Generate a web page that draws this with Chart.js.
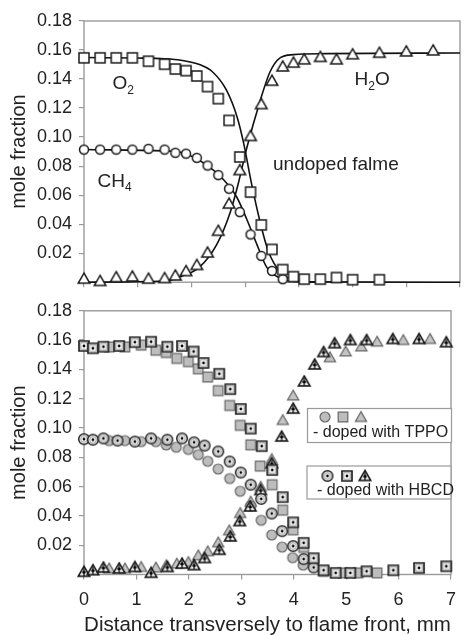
<!DOCTYPE html>
<html>
<head>
<meta charset="utf-8">
<script src="https://cdn.jsdelivr.net/npm/chart.js@4.4.1/dist/chart.umd.min.js"></script>
<style>
html, body { margin: 0; padding: 0; background: #fff; overflow: hidden; }
#wrap { position: relative; width: 466px; height: 635px; overflow: hidden; }
canvas { position: absolute; left: 0; }
#top { top: 0; }
#bottom { top: 293px; }
</style>
</head>
<body>
<div id="wrap">
<canvas id="top" width="466" height="300"></canvas>
<canvas id="bottom" width="466" height="344"></canvas>
</div>
<script>
// upper panel: undoped flame, measured points
const xUndoped = [0, 0.3, 0.6, 0.9, 1.2, 1.5, 1.7, 1.9, 2.1, 2.3, 2.5, 2.7, 2.9, 3.1, 3.3, 3.5, 3.7, 3.9, 4.1, 4.4, 4.7, 5.0, 5.5, 6.0, 6.5];
const o2Undoped = [0.1546, 0.1546, 0.1546, 0.1546, 0.1523, 0.1502, 0.1469, 0.1458, 0.1421, 0.1348, 0.1265, 0.1115, 0.0863, 0.0621, 0.0395, 0.0226, 0.0087, 0.0038, 0.0021, 0.0021, 0.0032, 0.0017, 0.0017];
const ch4Undoped = [0.0914, 0.0914, 0.0914, 0.0914, 0.0919, 0.0914, 0.0892, 0.0886, 0.0857, 0.0804, 0.0738, 0.0644, 0.0483, 0.0329, 0.0181, 0.0078, 0.0021];
const h2oUndoped = [0.0028, 0.0012, 0.0038, 0.0043, 0.0028, 0.0032, 0.0050, 0.0080, 0.0122, 0.0208, 0.0358, 0.0545, 0.0776, 0.1011, 0.1231, 0.1392, 0.1490, 0.1517, 0.1539, 0.1556, 0.1539, 0.1574, 0.1585, 0.1594, 0.1601];

// upper panel: model curves
const o2FitX = [0, 1.0, 1.5, 1.8, 2.15, 2.4, 2.65, 2.85, 2.97, 3.12, 3.28, 3.43, 3.65, 3.9, 4.3, 7];
const o2FitY = [0.1548, 0.1545, 0.1540, 0.1530, 0.1500, 0.1447, 0.1325, 0.1139, 0.0962, 0.0677, 0.0413, 0.0215, 0.0071, 0.0017, 0.0002, 0];
const h2oFitX = [0, 1.5, 1.8, 2.15, 2.47, 2.72, 2.87, 3.03, 3.28, 3.46, 3.65, 3.9, 4.5, 7];
const h2oFitY = [0, 0.0008, 0.0038, 0.0104, 0.0259, 0.0479, 0.0677, 0.0925, 0.1251, 0.1447, 0.1546, 0.1568, 0.1575, 0.1579];
const ch4FitX = [0, 1.5, 1.8, 2.28, 2.59, 2.84, 3.03, 3.22, 3.40, 3.65, 3.9, 4.5];
const ch4FitY = [0.0914, 0.0905, 0.0896, 0.0809, 0.0710, 0.0589, 0.0434, 0.0259, 0.0104, 0.0028, 0.0005, 0];

// lower panel: doped with TPPO
const tppoO2X = [0.48, 0.78, 1.09, 1.37, 1.57, 1.77, 1.99, 2.18, 2.36, 2.56, 2.78, 2.98, 3.18, 3.36, 3.59, 3.79, 3.99, 4.19, 4.38, 4.57, 4.94, 5.23, 5.59];
const tppoO2Y = [0.1553, 0.1553, 0.1566, 0.1531, 0.1515, 0.1475, 0.1453, 0.1404, 0.1348, 0.1255, 0.1154, 0.1018, 0.0885, 0.0740, 0.0613, 0.0439, 0.0305, 0.0185, 0.0078, 0.0022, 0.0011, 0.0011, 0.0011];
const tppoCh4X = [0.48, 0.78, 1.09, 1.37, 1.57, 1.76, 1.99, 2.18, 2.36, 2.56, 2.78, 2.98, 3.18, 3.38, 3.58, 3.78, 3.98, 4.18];
const tppoCh4Y = [0.0914, 0.0914, 0.0907, 0.0907, 0.0884, 0.0869, 0.0854, 0.0818, 0.0773, 0.0720, 0.0655, 0.0568, 0.0468, 0.0370, 0.0270, 0.0187, 0.0115, 0.0064];
const tppoH2oX = [0.48, 0.78, 1.09, 1.37, 1.57, 1.77, 1.99, 2.18, 2.36, 2.56, 2.77, 2.98, 3.18, 3.37, 3.58, 3.79, 3.99, 4.69, 4.99, 5.29, 5.59, 6.09, 6.60];
const tppoH2oY = [0.0045, 0.0045, 0.0055, 0.0051, 0.0067, 0.0078, 0.0089, 0.0134, 0.0162, 0.0223, 0.0305, 0.0423, 0.0501, 0.0602, 0.0791, 0.1058, 0.1225, 0.1486, 0.1526, 0.1560, 0.1593, 0.1604, 0.1611];

// lower panel: doped with HBCD
const hbcdO2X = [0, 0.17, 0.37, 0.67, 0.97, 1.28, 1.59, 1.87, 2.09, 2.28, 2.58, 2.79, 2.99, 3.18, 3.39, 3.59, 3.79, 3.99, 4.19, 4.38, 4.57, 4.80, 5.08, 5.39, 5.90, 6.39, 6.91];
const hbcdO2Y = [0.1560, 0.1544, 0.1555, 0.1560, 0.1586, 0.1589, 0.1555, 0.1560, 0.1522, 0.1444, 0.1370, 0.1265, 0.1130, 0.0996, 0.0876, 0.0713, 0.0528, 0.0356, 0.0216, 0.0111, 0.0029, 0.0011, 0.0011, 0.0022, 0.0029, 0.0045, 0.0056];
const hbcdCh4X = [0, 0.17, 0.37, 0.64, 0.97, 1.28, 1.59, 1.87, 2.10, 2.30, 2.56, 2.78, 2.99, 3.18, 3.38, 3.58, 3.78, 3.99, 4.19, 4.38];
const hbcdCh4Y = [0.0924, 0.0920, 0.0929, 0.0914, 0.0907, 0.0929, 0.0920, 0.0929, 0.0902, 0.0880, 0.0840, 0.0771, 0.0696, 0.0613, 0.0516, 0.0416, 0.0296, 0.0194, 0.0105, 0.0048];
const hbcdH2oX = [0, 0.17, 0.37, 0.67, 0.97, 1.28, 1.59, 1.87, 2.10, 2.30, 2.58, 2.79, 2.97, 3.17, 3.37, 3.58, 3.77, 3.99, 4.20, 4.40, 4.57, 4.78, 5.08, 5.39, 5.89, 6.39, 6.91];
const hbcdH2oY = [0.0022, 0.0033, 0.0051, 0.0045, 0.0055, 0.0015, 0.0055, 0.0078, 0.0067, 0.0116, 0.0172, 0.0263, 0.0368, 0.0468, 0.0580, 0.0763, 0.0945, 0.1136, 0.1321, 0.1437, 0.1522, 0.1582, 0.1604, 0.1604, 0.1611, 0.1611, 0.1589];

const yTicks = [0.02, 0.04, 0.06, 0.08, 0.10, 0.12, 0.14, 0.16, 0.18];

const FONT = '"Liberation Sans", Arial, sans-serif';
const pts = (xs, ys) => ys.map((y, i) => ({ x: xs[i], y }));

// marker glyphs drawn on small canvases
function marker(shape, o) {
    const s = 18, c = s / 2;
    const cv = document.createElement('canvas');
    cv.width = s; cv.height = s;
    const g = cv.getContext('2d');
    g.lineWidth = o.lw;
    g.strokeStyle = o.stroke;
    g.fillStyle = o.fill;
    g.beginPath();
    if (shape === 'circle') g.arc(c, c, o.r, 0, Math.PI * 2);
    else if (shape === 'square') g.rect(c - o.r, c - o.r, o.r * 2, o.r * 2);
    else {
        g.moveTo(c, c - o.r * 0.87);
        g.lineTo(c + o.r, c + o.r * 0.87);
        g.lineTo(c - o.r, c + o.r * 0.87);
        g.closePath();
    }
    g.fill();
    g.stroke();
    if (o.dot) {
        if (shape === 'circle') {
            g.beginPath(); g.strokeStyle = '#9a9a9a'; g.lineWidth = 1;
            g.arc(c, c, o.r - 2, 0, Math.PI * 2); g.stroke();
        } else if (shape === 'square') {
            g.strokeStyle = '#9a9a9a'; g.lineWidth = 1;
            g.strokeRect(c - o.r + 1.8, c - o.r + 1.8, (o.r - 1.8) * 2, (o.r - 1.8) * 2);
        } else {
            g.beginPath(); g.strokeStyle = '#111'; g.lineWidth = 1.2;
            g.moveTo(c, c - o.r * 0.5); g.lineTo(c, c + o.r * 0.87);
            g.moveTo(c - 2.2, c + 1); g.lineTo(c + 2.2, c + 1);
            g.stroke();
        }
        g.beginPath(); g.fillStyle = '#000';
        g.arc(c, shape === 'triangle' ? c + 1 : c, 1.4, 0, Math.PI * 2); g.fill();
    }
    return cv;
}

const openCircle = marker('circle', { r: 4.5, fill: '#fff', stroke: '#1a1a1a', lw: 1.5 });
const openSquare = marker('square', { r: 5, fill: '#fff', stroke: '#1a1a1a', lw: 1.5 });
const openTri = marker('triangle', { r: 5.8, fill: '#fff', stroke: '#1a1a1a', lw: 1.5 });

const grayCircle = marker('circle', { r: 5, fill: '#bdbdbd', stroke: '#666', lw: 1.2 });
const graySquare = marker('square', { r: 4.8, fill: '#bdbdbd', stroke: '#666', lw: 1.2 });
const grayTri = marker('triangle', { r: 5.6, fill: '#c4c4c4', stroke: '#666', lw: 1.2 });

const dotCircle = marker('circle', { r: 5.3, fill: '#fff', stroke: '#222', lw: 1.5, dot: true });
const dotSquare = marker('square', { r: 5, fill: '#fff', stroke: '#222', lw: 1.7, dot: true });
const dotTri = marker('triangle', { r: 5.8, fill: '#e6e6e6', stroke: '#111', lw: 1.5, dot: true });

const framePlugin = {
    id: 'frame',
    beforeDatasetsDraw(chart) {
        const { ctx, chartArea: a } = chart;
        ctx.save();
        ctx.strokeStyle = '#9a9a9a';
        ctx.lineWidth = 1.4;
        ctx.strokeRect(a.left, a.top, a.right - a.left, a.bottom - a.top);
        ctx.restore();
    }
};

function chem(ctx, parts, x, y) {
    for (const [t, sub] of parts) {
        ctx.font = (sub ? '12px ' : '19px ') + FONT;
        ctx.fillText(t, x, sub ? y + 4.5 : y);
        x += ctx.measureText(t).width;
    }
}

const topLabels = {
    id: 'topLabels',
    afterDraw(chart) {
        const ctx = chart.ctx;
        ctx.save();
        ctx.fillStyle = '#222';
        ctx.textBaseline = 'alphabetic';
        chem(ctx, [['O'], ['2', true]], 112.5, 89);
        chem(ctx, [['CH'], ['4', true]], 97.5, 186.5);
        chem(ctx, [['H'], ['2', true], ['O']], 354.5, 85);
        ctx.font = '19px ' + FONT;
        ctx.fillText('undoped falme', 273, 170);
        ctx.restore();
    }
};

const legendBoxes = {
    id: 'legendBoxes',
    afterDraw(chart) {
        const ctx = chart.ctx;
        ctx.save();
        ctx.strokeStyle = '#9a9a9a';
        ctx.lineWidth = 1.2;
        ctx.fillStyle = '#fff';
        ctx.fillRect(307.5, 115.5, 144, 34);
        ctx.strokeRect(307.5, 115.5, 144, 34);
        ctx.fillRect(307, 173, 144, 33);
        ctx.strokeRect(307, 173, 144, 33);
        const put = (img, x, y) => ctx.drawImage(img, x - img.width / 2, y - img.height / 2);
        put(grayCircle, 325, 124);
        put(graySquare, 343, 124);
        put(grayTri, 361, 123.5);
        put(dotCircle, 327.5, 183);
        put(dotSquare, 347, 183);
        put(dotTri, 365, 182.5);
        ctx.fillStyle = '#222';
        ctx.font = '16px ' + FONT;
        ctx.fillText('- doped with TPPO', 313, 143.5);
        ctx.fillText('- doped with HBCD', 317, 201.5);
        ctx.restore();
    }
};

function yScale() {
    return {
        min: 0,
        max: 0.18,
        afterFit: (s) => { s.width = 84; },
        afterBuildTicks: (s) => { s.ticks = [0, ...yTicks].map(v => ({ value: v })); },
        ticks: {
            color: '#222',
            padding: 7,
            font: { family: FONT, size: 18 },
            callback: (v) => (v < 0.001 ? '' : v.toFixed(2))
        },
        grid: { drawOnChartArea: false, drawTicks: true, tickLength: 5, color: '#9a9a9a', lineWidth: 1.2 },
        border: { display: false },
        title: {
            display: true,
            text: 'mole fraction',
            color: '#222',
            font: { family: FONT, size: 20 },
            padding: { top: 7, bottom: 0 }
        }
    };
}

function xScale(showLabels, fitHeight) {
    return {
        type: 'linear',
        min: 0,
        max: 7,
        afterFit: (s) => { s.height = fitHeight; },
        ticks: {
            display: showLabels,
            stepSize: 1,
            color: '#222',
            padding: 10,
            font: { family: FONT, size: 18 }
        },
        grid: { drawOnChartArea: false, drawTicks: true, tickLength: 5, color: '#9a9a9a', lineWidth: 1.2 },
        border: { display: false },
        title: {
            display: showLabels,
            text: 'Distance transversely to flame front, mm',
            color: '#222',
            font: { family: FONT, size: 20.5, lineHeight: 1 },
            padding: { top: 0, bottom: 1 }
        }
    };
}

function fit(data) {
    return {
        data,
        showLine: true,
        borderColor: '#111',
        borderWidth: 1.6,
        pointRadius: 0,
        cubicInterpolationMode: 'monotone',
        fill: false,
        clip: false
    };
}

function dots(data, style) {
    return { data, pointStyle: style, pointRadius: 5, showLine: false, clip: false };
}

const common = {
    responsive: false,
    animation: false,
    devicePixelRatio: 1,
    plugins: { legend: { display: false }, tooltip: { enabled: false } }
};

new Chart(document.getElementById('top'), {
    type: 'scatter',
    data: {
        datasets: [
            dots(pts(xUndoped, o2Undoped), openSquare),
            dots(pts(xUndoped, ch4Undoped), openCircle),
            dots(pts(xUndoped, h2oUndoped), openTri),
            fit(pts(o2FitX, o2FitY)),
            fit(pts(h2oFitX, h2oFitY)),
            fit(pts(ch4FitX, ch4FitY))
        ]
    },
    options: {
        ...common,
        layout: { padding: { top: 21, left: 0, right: 6, bottom: 0 } },
        scales: { x: xScale(false, 7.5), y: yScale() }
    },
    plugins: [framePlugin, topLabels]
});

new Chart(document.getElementById('bottom'), {
    type: 'scatter',
    data: {
        datasets: [
            dots(pts(hbcdO2X, hbcdO2Y), dotSquare),
            dots(pts(hbcdCh4X, hbcdCh4Y), dotCircle),
            dots(pts(hbcdH2oX, hbcdH2oY), dotTri),
            dots(pts(tppoO2X, tppoO2Y), graySquare),
            dots(pts(tppoCh4X, tppoCh4Y), grayCircle),
            dots(pts(tppoH2oX, tppoH2oY), grayTri)
        ]
    },
    options: {
        ...common,
        layout: { padding: { top: 12.7, left: 0, right: 6, bottom: 0 } },
        scales: { x: xScale(true, 62.5), y: yScale() }
    },
    plugins: [framePlugin, legendBoxes]
});
</script>
</body>
</html>
